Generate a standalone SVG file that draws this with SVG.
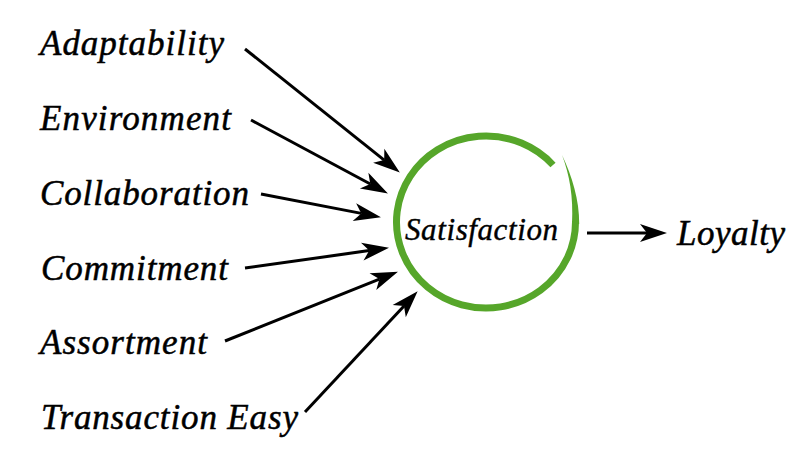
<svg xmlns="http://www.w3.org/2000/svg" width="800" height="473" viewBox="0 0 800 473">
<style>
.lbl{font-family:"Liberation Serif","Times New Roman",Times,serif;font-style:italic;font-size:35px;fill:#000;stroke:#000;stroke-width:0.5}
.core{font-family:"Liberation Serif","Times New Roman",Times,serif;font-style:italic;font-size:31px;fill:#000;stroke:#000;stroke-width:0.4}
.arr{stroke:#000;stroke-width:3;fill:none;marker-end:url(#ah)}
.grn{fill:#56a62a}
</style>
<defs>
<marker id="ah" markerUnits="userSpaceOnUse" markerWidth="40" markerHeight="30" viewBox="-10 -15 40 30" refX="0" refY="0" orient="auto">
<path d="M20,0 L-7,-9 L0,0 L-7,9 Z" fill="#000"/>
</marker>
</defs>
<rect width="800" height="473" fill="#fff"/>
<g id="connectors">
<line class="arr" x1="245" y1="49" x2="384.2" y2="160.1"/>
<line class="arr" x1="251" y1="120" x2="370.3" y2="184"/>
<line class="arr" x1="261" y1="194" x2="361.3" y2="213.4"/>
<line class="arr" x1="245" y1="268" x2="369.2" y2="250.6"/>
<line class="arr" x1="225" y1="341" x2="379.4" y2="279.1"/>
<line class="arr" x1="305" y1="412" x2="404" y2="305.9"/>
<line class="arr" x1="587" y1="233" x2="647" y2="233"/>
</g>
<g id="adaptability"><text class="lbl" x="40" y="55" textLength="184" lengthAdjust="spacing">Adaptability</text></g>
<g id="environment"><text class="lbl" x="40" y="130" textLength="191" lengthAdjust="spacing">Environment</text></g>
<g id="collaboration"><text class="lbl" x="40" y="205" textLength="209" lengthAdjust="spacing">Collaboration</text></g>
<g id="commitment"><text class="lbl" x="41" y="280" textLength="187" lengthAdjust="spacing">Commitment</text></g>
<g id="assortment"><text class="lbl" x="40" y="354" textLength="167" lengthAdjust="spacing">Assortment</text></g>
<g id="transaction"><text class="lbl" x="41" y="429" textLength="257" lengthAdjust="spacing">Transaction Easy</text></g>
<g id="satisfaction">
<path d="M553 165 A89.5 86 0 1 0 575.5 221" fill="none" stroke="#56a62a" stroke-width="7"/>
<path class="grn" d="M579.2 224 C579.5 200 572 176 562 155 C569.5 175 573.5 196 572 224 Z"/>
<text class="core" x="405" y="240" textLength="153" lengthAdjust="spacing">Satisfaction</text>
</g>
<g id="loyalty"><text class="lbl" x="677" y="245" textLength="108" lengthAdjust="spacing">Loyalty</text></g>
</svg>
